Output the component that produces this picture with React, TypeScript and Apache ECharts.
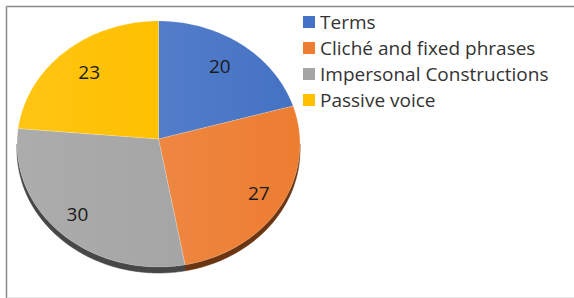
import React, { useEffect, useRef } from "react";
import * as echarts from "echarts";

const categories = ["Terms", "Cliché and fixed phrases", "Impersonal Constructions", "Passive voice"];
const values = [20, 27, 30, 23];
const colors = ["#4472C4", "#ED7D31", "#A5A5A5", "#FFC000"];
const sideColors = ["#2b4a82", "#6a3510", "#474747", "#8a6800"];

const CX = 158.5;
const CY = 144;
const RX = 141.5;
const RY = 123;
const APEX_Y = 139;
const DEPTH = 6;
const LABEL_R = 0.78;

function rim(t: number, dy = 0): number[] {
  return [CX + RX * Math.sin(t), CY - RY * Math.cos(t) + dy];
}

function arcPts(a: number, b: number, dy = 0): number[][] {
  const pts: number[][] = [];
  const n = Math.max(2, Math.ceil(((b - a) * 180) / Math.PI));
  for (let k = 0; k <= n; k++) pts.push(rim(a + ((b - a) * k) / n, dy));
  return pts;
}

function lighten(hex: string, f: number): string {
  const n = parseInt(hex.slice(1), 16);
  const r = (n >> 16) & 255, g = (n >> 8) & 255, b = n & 255;
  const l = (c: number) => Math.round(Math.min(255, c + (255 - c) * f));
  return `rgb(${l(r)},${l(g)},${l(b)})`;
}

function makeRender(i: number) {
  return (_params: any, api: any) => {
    const total = values.reduce((s, v) => s + v, 0);
    const before = values.slice(0, i).reduce((s, v) => s + v, 0);
    const v = api.value(0);
    const a = (before / total) * Math.PI * 2;
    const b = ((before + v) / total) * Math.PI * 2;
    const children: any[] = [];
    const sa = Math.max(a, Math.PI / 2);
    const sb = Math.min(b, (Math.PI * 3) / 2);
    if (sb > sa) {
      const top = arcPts(sa, sb, 0);
      const bot = arcPts(sa, sb, DEPTH).reverse();
      children.push({
        type: "polygon",
        shape: { points: top.concat(bot) },
        style: { fill: sideColors[i], stroke: sideColors[i], lineWidth: 0.5 },
        z2: 1,
      });
    }
    const pts = [[CX, APEX_Y]].concat(arcPts(a, b, 0));
    children.push({
      type: "polygon",
      shape: { points: pts },
      style: {
        fill: new echarts.graphic.LinearGradient(0, 0, 1, 0, [
          { offset: 0, color: lighten(colors[i], 0.08) },
          { offset: 1, color: colors[i] },
        ]),
        stroke: "rgba(255,255,255,0.35)",
        lineWidth: 0.5,
      },
      z2: 2,
    });
    const m = (a + b) / 2;
    const fx = 0.79 - 0.065 * Math.cos(m); // perspective: nearer side looks wider
    children.push({
      type: "text",
      x: CX + fx * RX * Math.sin(m),
      y: CY - LABEL_R * RY * Math.cos(m),
      style: {
        text: String(v),
        fill: "#1a1a1a",
        font: "19px 'Open Sans'",
        align: "center",
        verticalAlign: "middle",
      },
      z2: 3,
    });
    return { type: "group", children };
  };
}

export default function App() {
  const ref = useRef<HTMLDivElement>(null);
  useEffect(() => {
    if (!ref.current) return;
    const chart = echarts.init(ref.current, undefined, { renderer: "svg" });
    chart.setOption({
      animation: false,
      backgroundColor: "#ffffff",
      legend: {
        orient: "vertical",
        left: 298,
        top: 7,
        icon: "rect",
        itemWidth: 12,
        itemHeight: 12,
        itemGap: 6,
        data: categories,
        textStyle: { fontFamily: "'Open Sans'", fontSize: 19, color: "#333333", lineHeight: 20 },
        selectedMode: false,
      },
      graphic: [
        { type: "line", shape: { x1: 6.5, y1: 6.5, x2: 574, y2: 6.5 }, style: { stroke: "#8a8a8a", lineWidth: 1.5 } },
        { type: "line", shape: { x1: 6.5, y1: 6.5, x2: 6.5, y2: 298 }, style: { stroke: "#8a8a8a", lineWidth: 1.5 } },
        { type: "line", shape: { x1: 7, y1: 297.5, x2: 574, y2: 297.5 }, style: { stroke: "#e4e4e4", lineWidth: 1 } },
      ],
      series: categories.map((name, i) => ({
        type: "custom",
        name,
        coordinateSystem: "none",
        color: colors[i],
        data: [[values[i]]],
        renderItem: makeRender(i),
      })),
    });
    return () => chart.dispose();
  }, []);
  return <div ref={ref} style={{ position: "fixed", left: 0, top: 0, width: 574, height: 298 }} />;
}
